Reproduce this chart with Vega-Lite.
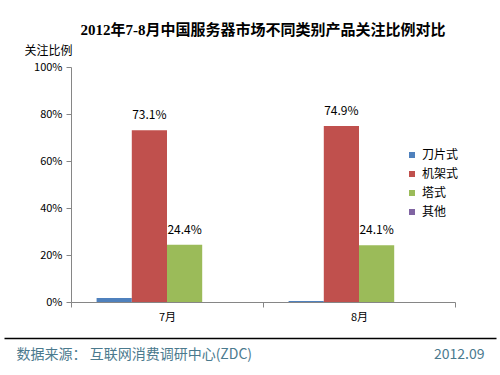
{
  "$schema": "https://vega.github.io/schema/vega-lite/v6.json",
  "width": 384,
  "height": 235,
  "autosize": {"type": "none"},
  "padding": {"left": 71, "top": 67, "right": 45, "bottom": 73},
  "background": "white",
  "title": {
    "text": "2012年7-8月中国服务器市场不同类别产品关注比例对比",
    "frame": "group",
    "anchor": "middle",
    "offset": 6,
    "fontSize": 15,
    "fontWeight": "bold",
    "font": "Liberation Serif, Noto Sans CJK SC",
    "color": "#000000"
  },
  "config": {
    "view": {"stroke": null},
    "font": "Noto Sans CJK SC"
  },
  "data": {
    "values": [
      {"month": "7月", "type": "刀片式", "value": 0.017},
      {"month": "7月", "type": "机架式", "value": 0.731},
      {"month": "7月", "type": "塔式", "value": 0.244},
      {"month": "7月", "type": "其他", "value": 0.0},
      {"month": "8月", "type": "刀片式", "value": 0.004},
      {"month": "8月", "type": "机架式", "value": 0.749},
      {"month": "8月", "type": "塔式", "value": 0.241},
      {"month": "8月", "type": "其他", "value": 0.0}
    ]
  },
  "layer": [
    {
      "layer": [
        {
          "mark": {"type": "bar"},
          "encoding": {
            "x": {
              "field": "month",
              "type": "nominal",
              "sort": ["7月", "8月"],
              "scale": {"paddingInner": 0, "paddingOuter": 0},
              "axis": {
                "orient": "bottom",
                "tickBand": "extent",
                "tickSize": 5,
                "domainColor": "#868686",
                "tickColor": "#868686",
                "labelAngle": 0,
                "labelFontSize": 11,
                "labelPadding": 4,
                "labelColor": "#000000",
                "title": "2012.09",
                "titleX": 413,
                "titleY": 52,
                "titleAlign": "right",
                "titleBaseline": "middle",
                "titleColor": "#4b7a8e",
                "titleFontSize": 14,
                "titleFontWeight": "normal"
              }
            },
            "xOffset": {
              "field": "type",
              "type": "nominal",
              "sort": ["刀片式", "机架式", "塔式", "其他"],
              "scale": {"paddingInner": 0, "paddingOuter": 0.727}
            },
            "y": {
              "field": "value",
              "type": "quantitative",
              "scale": {"domain": [0, 1]},
              "axis": {
                "values": [0, 0.2, 0.4, 0.6, 0.8, 1],
                "format": ".0%",
                "grid": false,
                "tickSize": 5,
                "domainColor": "#868686",
                "tickColor": "#868686",
                "labelFontSize": 11,
                "labelPadding": 4,
                "labelColor": "#000000",
                "title": "关注比例",
                "titleAngle": 0,
                "titleAlign": "left",
                "titleBaseline": "middle",
                "titleX": -47,
                "titleY": -17,
                "titleFontSize": 12,
                "titleFontWeight": "normal",
                "titleColor": "#000000"
              }
            },
            "color": {
              "field": "type",
              "type": "nominal",
              "sort": ["刀片式", "机架式", "塔式", "其他"],
              "scale": {
                "domain": ["刀片式", "机架式", "塔式", "其他"],
                "range": ["#4f81bd", "#c0504d", "#9bbb59", "#8064a2"]
              },
              "legend": {
                "orient": "none",
                "legendX": 335,
                "legendY": 82,
                "title": null,
                "symbolType": "square",
                "symbolSize": 36,
                "symbolStrokeWidth": 0,
                "labelFontSize": 12,
                "labelColor": "#000000",
                "rowPadding": 7,
                "labelOffset": 4
              }
            }
          }
        },
        {
          "transform": [{"filter": "datum.value > 0.1"}],
          "mark": {"type": "text", "dy": -15, "fontSize": 12, "color": "#000000", "baseline": "middle"},
          "encoding": {
            "x": {"field": "month", "type": "nominal", "sort": ["7月", "8月"]},
            "xOffset": {"field": "type", "type": "nominal", "sort": ["刀片式", "机架式", "塔式", "其他"]},
            "y": {"field": "value", "type": "quantitative"},
            "text": {"field": "value", "type": "quantitative", "format": ".1%"}
          }
        }
      ]
    },
    {
      "mark": {"type": "point", "opacity": 0},
      "encoding": {
        "x": {
          "field": "month",
          "type": "nominal",
          "scale": {"range": [-67, 425]},
          "axis": {
            "orient": "bottom",
            "offset": 36,
            "domainColor": "#000000",
            "domainWidth": 1.5,
            "ticks": false,
            "labels": false,
            "title": "数据来源： 互联网消费调研中心(ZDC)",
            "titleX": -55,
            "titleY": 16,
            "titleAlign": "left",
            "titleBaseline": "middle",
            "titleColor": "#4b7a8e",
            "titleFontSize": 14,
            "titleFontWeight": "normal"
          }
        }
      }
    }
  ],
  "resolve": {"scale": {"x": "independent"}, "axis": {"x": "independent"}}
}
